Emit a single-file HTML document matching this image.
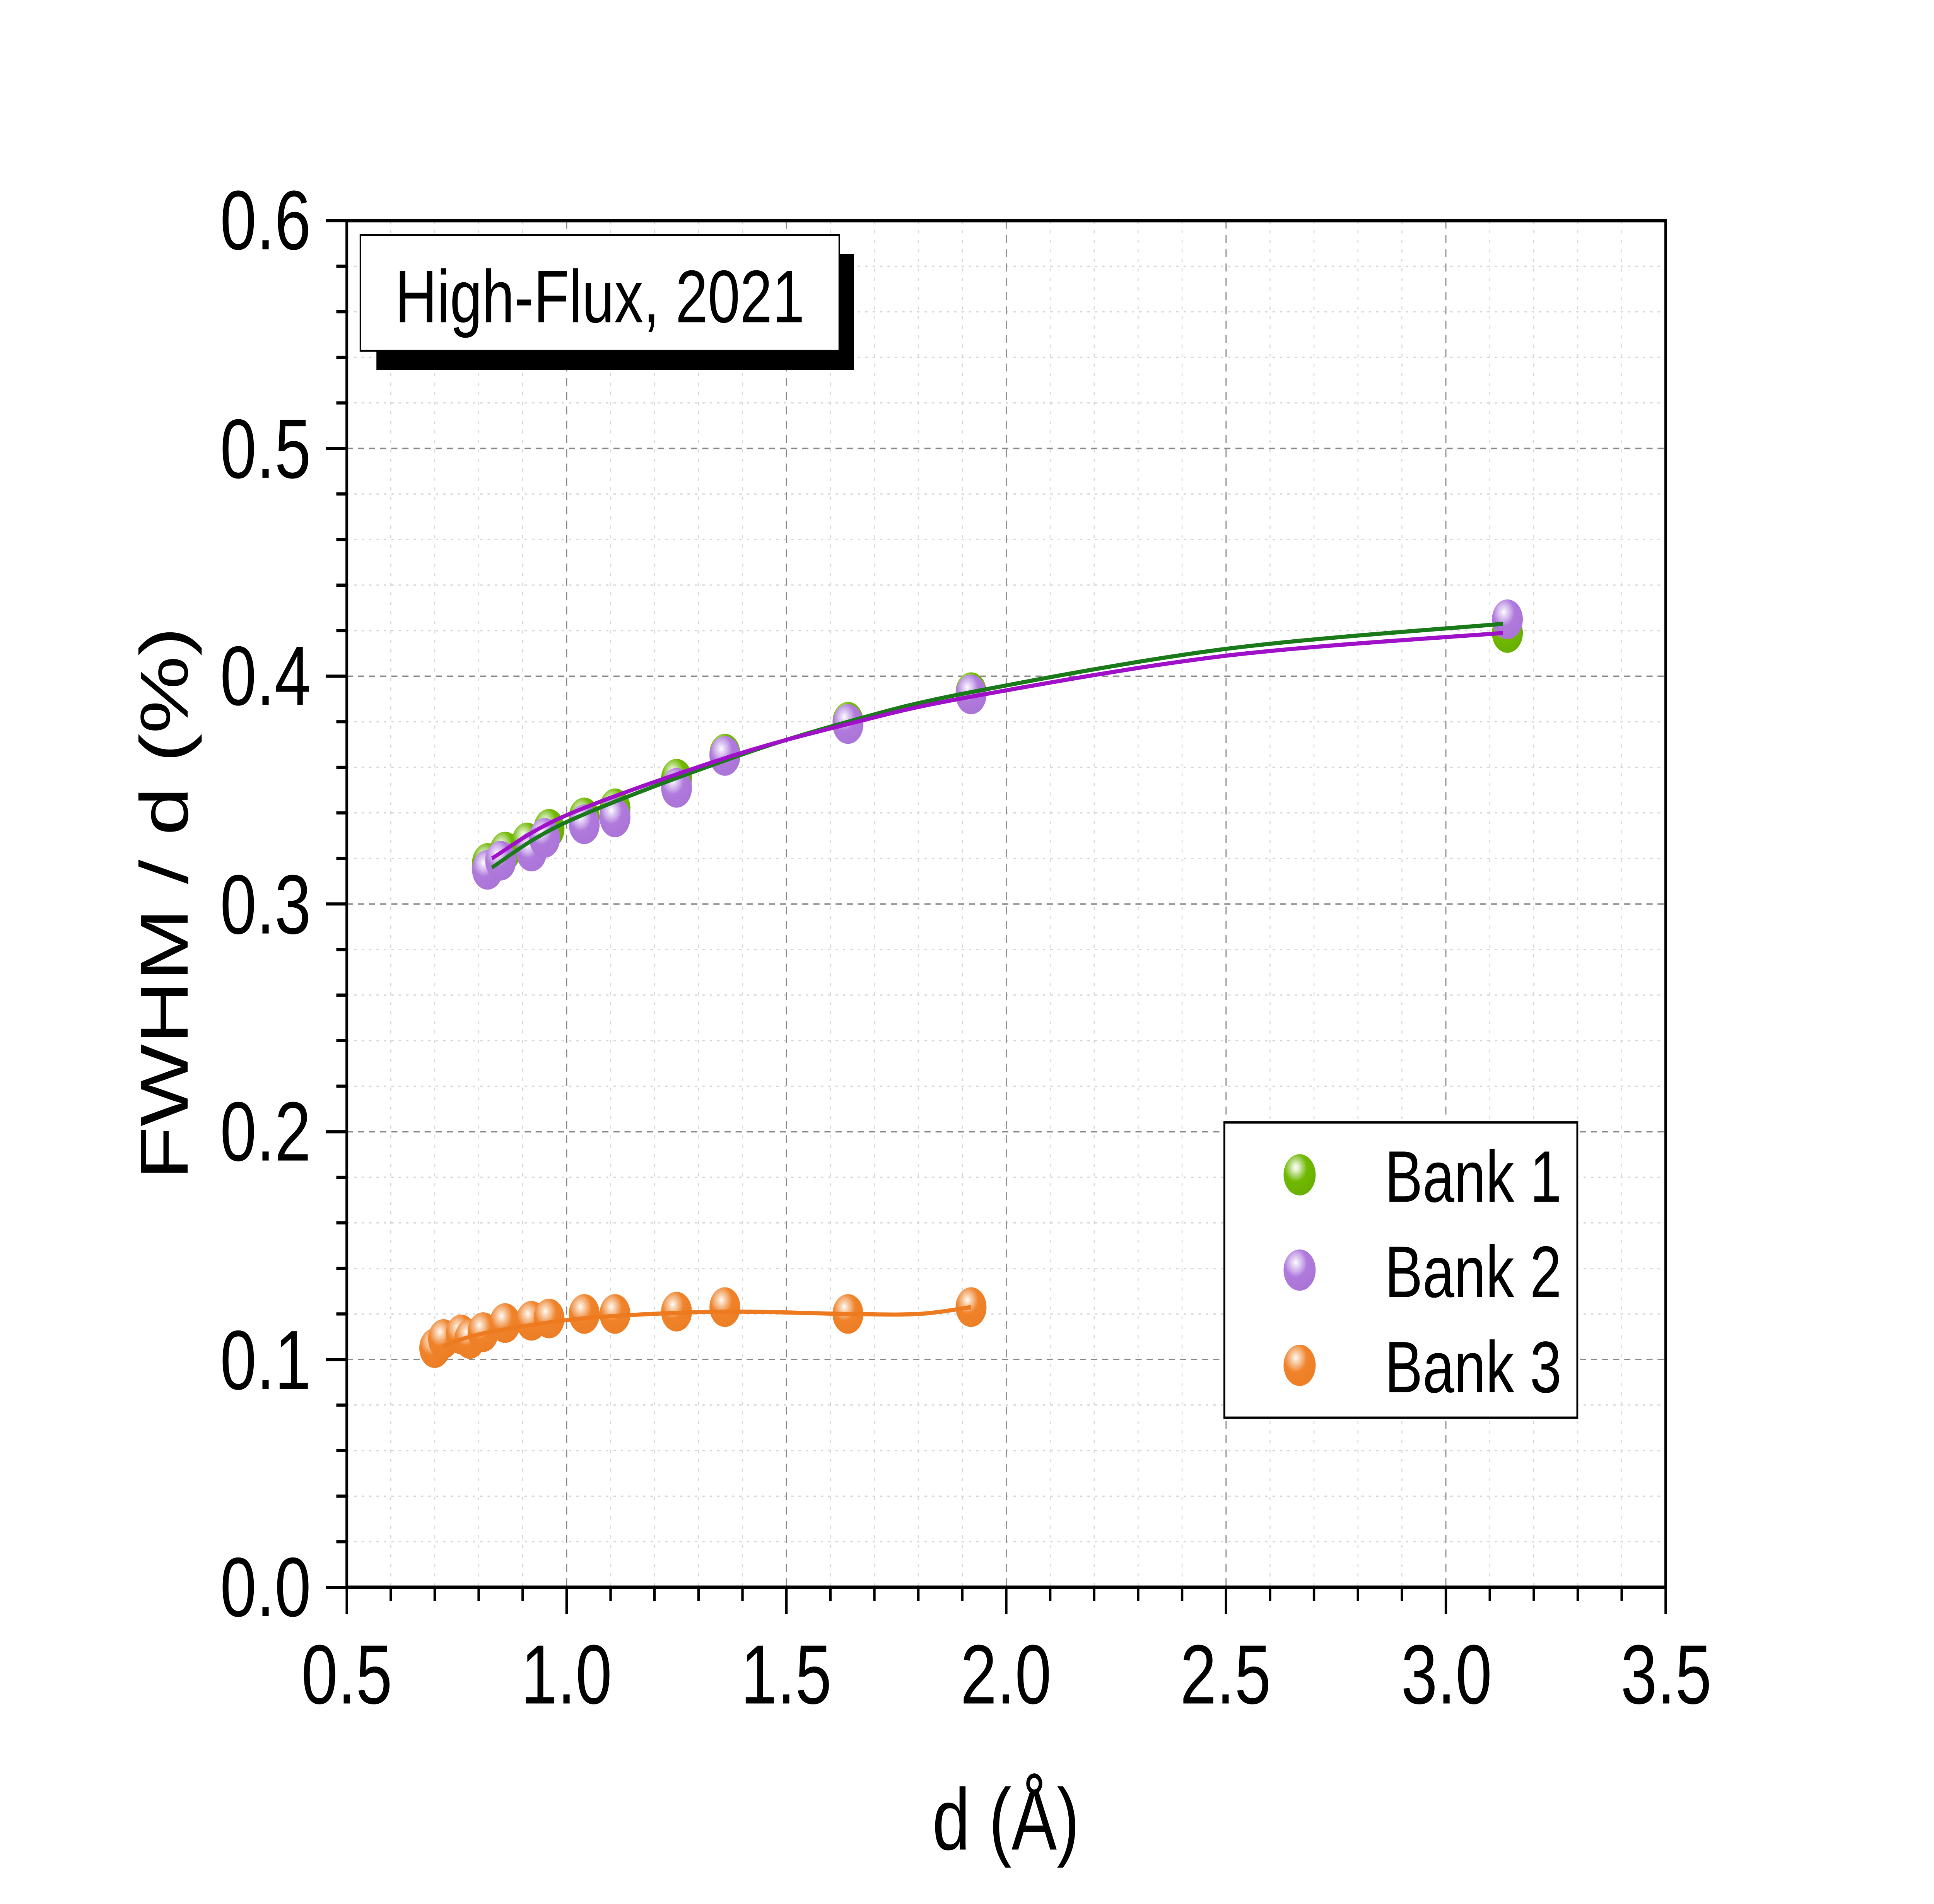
<!DOCTYPE html>
<html><head><meta charset="utf-8">
<style>
html,body{margin:0;padding:0;background:#fff;overflow:hidden;}
svg{display:block;width:100vw;height:100vh;}
text{font-family:"Liberation Sans",Arial,sans-serif;fill:#000;}
</style></head>
<body>
<svg id="s" viewBox="0 0 1567 1199.3" preserveAspectRatio="none" xmlns="http://www.w3.org/2000/svg">
<defs>
<radialGradient id="gG" cx="0.38" cy="0.32" r="0.7">
<stop offset="0" stop-color="#ffffff"/><stop offset="0.12" stop-color="#e4f2cc"/><stop offset="0.3" stop-color="#aad56e"/><stop offset="0.5" stop-color="#70b800"/><stop offset="1" stop-color="#68b000"/></radialGradient>
<radialGradient id="gP" cx="0.38" cy="0.32" r="0.7">
<stop offset="0" stop-color="#ffffff"/><stop offset="0.12" stop-color="#eadcf6"/><stop offset="0.3" stop-color="#cfb0ec"/><stop offset="0.5" stop-color="#b07adc"/><stop offset="1" stop-color="#ab74d8"/></radialGradient>
<radialGradient id="gO" cx="0.38" cy="0.32" r="0.7">
<stop offset="0" stop-color="#ffffff"/><stop offset="0.12" stop-color="#fbdcc0"/><stop offset="0.3" stop-color="#f4b27c"/><stop offset="0.5" stop-color="#f0832a"/><stop offset="1" stop-color="#ec7e26"/></radialGradient>
</defs>
<rect x="0" y="0" width="1567" height="1199.3" fill="#fff"/>
<g id="grid"></g>
<g id="series"></g>
<g id="axes"></g>
<rect x="305" y="160" width="387" height="73" fill="#000"/>
<rect x="292" y="148" width="388" height="73" fill="#fff" stroke="#000" stroke-width="1.2"/>
<text x="486" y="203" font-size="47" text-anchor="middle">High-Flux, 2021</text>
<rect x="992" y="707" width="286" height="186" fill="#fff" stroke="#000" stroke-width="1.5"/>
<ellipse cx="1053" cy="740" rx="13" ry="13" fill="url(#gG)"/>
<ellipse cx="1053" cy="800" rx="13" ry="13" fill="url(#gP)"/>
<ellipse cx="1053" cy="860" rx="13" ry="13" fill="url(#gO)"/>
<text x="1122" y="757" font-size="46">Bank 1</text>
<text x="1122" y="817" font-size="46">Bank 2</text>
<text x="1122" y="877" font-size="46">Bank 3</text>
<g font-size="53" text-anchor="end">
<text x="252" y="1018">0.0</text>
<text x="252" y="875">0.1</text>
<text x="252" y="731">0.2</text>
<text x="252" y="588">0.3</text>
<text x="252" y="444">0.4</text>
<text x="252" y="301">0.5</text>
<text x="252" y="157">0.6</text>
</g>
<g font-size="53" text-anchor="middle">
<text x="281" y="1073">0.5</text>
<text x="459" y="1073">1.0</text>
<text x="637" y="1073">1.5</text>
<text x="815" y="1073">2.0</text>
<text x="993" y="1073">2.5</text>
<text x="1172" y="1073">3.0</text>
<text x="1350" y="1073">3.5</text>
</g>
<text x="815" y="1165" font-size="55" text-anchor="middle">d (Å)</text>
<text transform="translate(152,569) rotate(-90)" font-size="55" text-anchor="middle">FWHM / d (%)</text>
</svg>
<script>
var L=281,R=1349.6,T=139,B=999.8;
function X(d){return L+(d-0.5)*(R-L)/3;}
function Y(v){return B-v*(B-T)/0.6;}
var NS="http://www.w3.org/2000/svg";
function el(p,n,a){var e=document.createElementNS(NS,n);for(var k in a)e.setAttribute(k,a[k]);p.appendChild(e);return e;}
var g=document.getElementById('grid'),s=document.getElementById('series'),ax=document.getElementById('axes');
for(var i=1;i<30;i++){if(i%5==0)continue;var x=X(0.5+i*0.1);el(g,'line',{x1:x,y1:T,x2:x,y2:B,stroke:'#d6d6d6','stroke-width':0.8,'stroke-dasharray':'2 4'});}
for(var i=1;i<30;i++){if(i%5==0)continue;var y=Y(i*0.02);el(g,'line',{x1:L,y1:y,x2:R,y2:y,stroke:'#d6d6d6','stroke-width':0.8,'stroke-dasharray':'2 4'});}
for(var i=1;i<6;i++){var x=X(0.5+i*0.5);el(g,'line',{x1:x,y1:T,x2:x,y2:B,stroke:'#888','stroke-width':0.9,'stroke-dasharray':'5 4'});}
for(var i=1;i<6;i++){var y=Y(i*0.1);el(g,'line',{x1:L,y1:y,x2:R,y2:y,stroke:'#888','stroke-width':0.9,'stroke-dasharray':'5 4'});}
el(ax,'rect',{x:L,y:T,width:R-L,height:B-T,fill:'none',stroke:'#000','stroke-width':2.2});
for(var i=0;i<=30;i++){var x=X(0.5+i*0.1);var len=(i%5==0)?17:8.5;el(ax,'line',{x1:x,y1:B,x2:x,y2:B+len,stroke:'#000','stroke-width':2});}
for(var i=0;i<=30;i++){var y=Y(i*0.02);var len=(i%5==0)?17:8.5;el(ax,'line',{x1:L,y1:y,x2:L-len,y2:y,stroke:'#000','stroke-width':2});}
function curve(pts,col){
  var P=pts.map(function(p){return [X(p[0]),Y(p[1])];});
  var d='M'+P[0][0]+','+P[0][1];
  for(var i=0;i<P.length-1;i++){var p0=P[i-1]||P[i],p1=P[i],p2=P[i+1],p3=P[i+2]||P[i+1];
    d+=' C'+(p1[0]+(p2[0]-p0[0])/6)+','+(p1[1]+(p2[1]-p0[1])/6)+' '+(p2[0]-(p3[0]-p1[0])/6)+','+(p2[1]-(p3[1]-p1[1])/6)+' '+p2[0]+','+p2[1];}
  el(s,'path',{d:d,fill:'none',stroke:col,'stroke-width':2.6});
}
function pts(data,grad){data.forEach(function(p){el(s,'circle',{cx:X(p[0]),cy:Y(p[1]),r:12.5,fill:'url(#'+grad+')'});});}
var b1=[[0.82,0.318],[0.86,0.323],[0.91,0.327],[0.96,0.333],[1.04,0.338],[1.11,0.342],[1.25,0.355],[1.36,0.366],[1.64,0.380],[1.92,0.393],[3.14,0.419]];
var b2=[[0.82,0.315],[0.85,0.319],[0.92,0.323],[0.95,0.329],[1.04,0.335],[1.11,0.338],[1.25,0.351],[1.36,0.365],[1.64,0.379],[1.92,0.392],[3.14,0.425]];
var b3=[[0.70,0.105],[0.72,0.109],[0.76,0.111],[0.78,0.109],[0.81,0.112],[0.86,0.116],[0.92,0.117],[0.96,0.118],[1.04,0.120],[1.11,0.120],[1.25,0.121],[1.36,0.123],[1.64,0.120],[1.92,0.123]];
pts(b3,'gO');pts(b1,'gG');pts(b2,'gP');
curve([[0.83,0.316],[1.0,0.336],[1.36,0.363],[1.64,0.380],[1.92,0.393],[2.5,0.412],[3.13,0.423]],'#1a7a1a');
curve([[0.83,0.320],[1.0,0.339],[1.36,0.364],[1.64,0.379],[1.92,0.391],[2.5,0.409],[3.13,0.419]],'#a010c8');
curve([[0.72,0.106],[0.8,0.111],[0.95,0.116],[1.1,0.119],[1.36,0.121],[1.64,0.120],[1.8,0.120],[1.92,0.123]],'#ee7a20');
</script>
</body></html>
